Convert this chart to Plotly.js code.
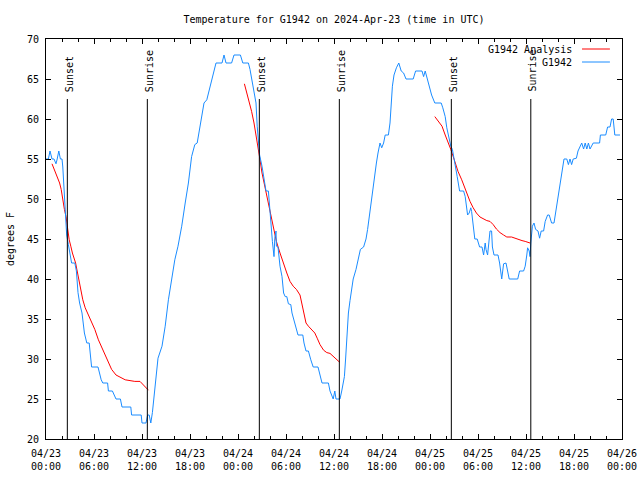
<!DOCTYPE html>
<html>
<head>
<meta charset="utf-8">
<script src="https://cdn.plot.ly/plotly-3.0.1.min.js"></script>
<style>html,body{margin:0;padding:0;background:#fff;}#chart{width:640px;height:480px;}</style>
</head>
<body>
<div id="chart"></div>
<script>
// ---- data (hours after 2024-04-23 00:00 UTC, temperature in degrees F) ----
const obsHours = [0.0,0.3,0.5,0.75,1.0,1.25,1.4,1.6,1.8,2.0,2.1,2.3,2.45,2.58,2.8,3.0,3.2,3.6,3.8,4.0,4.2,4.5,4.8,5.1,5.4,5.7,6.5,6.9,7.1,7.7,7.8,8.3,8.75,9.3,9.5,10.6,10.7,11.9,12.0,12.5,12.7,12.9,13.1,13.3,13.5,13.75,14.0,14.5,14.9,15.3,15.7,16.1,16.5,16.96,17.4,17.8,18.2,18.6,18.9,19.2,19.5,19.75,20.1,20.5,20.9,21.25,22.0,22.25,22.5,23.2,23.5,24.3,24.6,25.3,25.5,25.9,26.25,26.4,26.5,26.7,27.0,27.3,27.5,27.8,27.9,28.05,28.2,28.3,28.5,28.6,28.75,28.8,29.0,29.25,29.5,29.7,29.9,30.1,30.3,30.6,30.75,31.1,31.3,31.5,32.1,32.25,32.5,32.8,33.1,33.4,34.0,34.25,34.5,35.3,35.5,35.9,36.1,36.25,36.75,36.96,37.3,37.45,37.6,37.8,38.0,38.2,38.4,38.75,39.0,39.3,39.7,40.0,40.2,40.4,40.7,40.9,41.1,41.3,41.5,41.75,41.96,42.2,42.4,42.8,43.0,43.1,43.3,43.5,43.8,44.1,44.4,44.7,45.0,45.9,46.2,47.0,47.2,47.4,47.6,47.8,48.0,48.2,48.6,49.4,49.6,49.9,50.1,50.3,50.6,50.8,51.1,51.4,51.7,52.2,52.4,52.5,52.7,52.9,53.1,53.2,53.3,53.5,53.6,53.9,54.2,54.5,54.7,54.9,55.0,55.2,55.4,55.5,55.7,55.8,56.0,56.5,56.7,56.9,56.96,57.2,57.5,57.7,57.9,58.96,59.2,59.7,59.9,60.1,60.2,60.4,60.5,60.6,60.8,61.0,61.2,61.5,61.7,61.9,62.2,62.4,62.7,62.9,63.2,63.5,63.7,63.9,64.1,64.3,64.5,64.75,65.1,65.3,65.5,65.7,65.9,66.3,66.5,66.96,67.2,67.4,67.6,67.8,68.0,68.4,69.2,69.3,69.96,70.2,70.5,70.7,70.9,71.1,71.75];
const obsTempF = [55,55,56,55,55,54.4,55,56,55,55,54,51,48,45.5,44.3,43,42,42,41,38.3,37,35.75,33.25,32,32,29,29,27.4,27,27,26,26,25,25,24,24,23,23,22,22,23,23,22,23.3,25.5,28.25,30.1,31.6,34.1,37.4,39.9,42.4,44.1,46.6,49.5,52,55.3,56.8,57,58.7,60.5,62,62.4,64.1,65.75,67,67,68,67,67,68,68,67,67,66.2,63.7,62,59.1,57.4,55.5,54.1,52.4,51,51,49.5,48.25,46.2,44.7,42.8,45.1,46,44.1,44,41.6,40.3,38.25,37.8,37.8,36.9,36.8,35.75,34.5,33.7,33,33,32,31,31,29.9,29,29,28,27,27,26,25,26,25,25,26,27.8,30,32.4,35.75,37.3,38.7,40,41.2,42.4,43.7,44,45,46.2,47.8,49.9,51.6,53.25,54.5,55.75,57,56.4,57,58,58,59.5,61.6,64.1,65.5,66.4,67,66,65.75,65,65,66,66,65.3,66,65.3,64.5,63.7,63,62,62,61.4,60.3,58.9,57.9,56.6,56.2,54.7,52.8,51,51,50.3,49.3,48,48.25,48.9,48.45,47.6,46.4,45,45,44,44,43,44.5,43.7,43,45.1,46,46,44,43,43,42,40.75,40,41.9,42,41,40,40,41,41,41.6,43,43.9,43.5,42.8,44.5,46.6,47,46.2,46,45.1,46,46,47.2,48,48,47,47,48.25,49.3,50.5,51.8,53,55,55,54.3,55,54.3,55,55.1,56,57,56.25,57,56.25,57,56.25,57,57,58,58,59,59,60,60,58,58];

const anaHours = [0.75,1.25,1.7,1.9,2.1,2.3,2.5,2.7,2.9,3.1,3.3,3.7,3.95,4.25,4.6,4.9,5.3,5.7,6.1,6.55,7.0,7.4,7.8,8.2,8.75,9.25,9.9,10.5,11.1,11.75,12.2,12.8,
  18.0,
  24.8,25.1,25.4,25.7,26.0,26.3,26.5,26.75,27.0,27.4,27.7,28.0,28.4,28.8,29.25,29.7,30.1,30.5,30.9,31.3,31.75,31.96,32.2,32.5,32.8,33.2,33.6,33.9,34.25,34.7,35.1,35.5,35.9,36.3,36.7,
  42.0,
  48.6,49.05,49.5,49.9,50.3,50.6,51.1,51.5,51.96,52.4,52.8,53.0,53.4,53.8,54.25,54.7,55.1,55.5,55.9,56.3,56.75,57.2,57.6,58.2,58.6,59.0,59.5,59.9,60.3,60.5];
const anaTempF = [54.4,53.25,52,51.2,49.7,48.7,47.8,46.2,44.9,44.1,43.25,42,40.75,39.1,37.4,36.4,35.5,34.7,33.7,32.4,31.4,30.3,29.5,28.7,28,27.75,27.4,27.3,27.2,27.2,26.7,26.1,
  null,
  64.4,63.25,62.2,60.95,59.5,57.8,56.6,54.9,53.25,51.4,49.7,48.25,46.4,44.7,43.25,41.8,40.75,39.7,39.1,38.7,38,37,35.75,34.5,34.1,33.7,33.25,32.6,31.8,31.1,30.8,30.7,30.3,30,29.6,
  null,
  60.3,59.7,59.1,58,57,56.2,54.7,53.45,52.4,51.2,50.1,49.7,48.9,48.25,47.75,47.5,47.3,47.2,46.8,46.25,45.8,45.5,45.25,45.25,45.1,44.9,44.8,44.7,44.6,44.5];

const sunsetTimes = ['2024-04-23 02:40', '2024-04-24 02:40', '2024-04-25 02:40'];
const sunriseTimes = ['2024-04-23 12:40', '2024-04-24 12:40', '2024-04-25 12:36'];
const seriesNames = ['G1942 Analysis', 'G1942'];
const seriesColors = ['#ff0000', '#1a8cff'];

// ---- helpers ----
function pad(n){ return (n < 10 ? '0' : '') + n; }
function hoursToDate(h){
  const base = Date.UTC(2024, 3, 23);
  const d = new Date(base + Math.round(h * 60) * 60000);
  return d.getUTCFullYear() + '-' + pad(d.getUTCMonth()+1) + '-' + pad(d.getUTCDate()) + ' ' +
         pad(d.getUTCHours()) + ':' + pad(d.getUTCMinutes());
}

const FONT = 'DejaVu Sans Mono, monospace';

const traces = [
  {
    x: anaHours.map(hoursToDate), y: anaTempF, type: 'scatter', mode: 'lines',
    name: seriesNames[0], connectgaps: false, showlegend: false,
    line: {color: seriesColors[0], width: 1}
  },
  {
    x: obsHours.map(hoursToDate), y: obsTempF, type: 'scatter', mode: 'lines',
    name: seriesNames[1], showlegend: false,
    line: {color: seriesColors[1], width: 1}
  }
];

const shapes = [];
const annotations = [];
const LINE_TOP = 0.85, LABEL_BOTTOM = 0.863;
sunsetTimes.forEach(t => {
  shapes.push({type: 'line', xref: 'x', yref: 'paper', x0: t, x1: t, y0: 0, y1: LINE_TOP, line: {color: '#000', width: 1}});
  annotations.push({x: t, y: LABEL_BOTTOM, xref: 'x', yref: 'paper', text: 'Sunset', textangle: -90, showarrow: false,
    xanchor: 'center', yanchor: 'bottom', xshift: 2, font: {family: FONT, size: 10, color: '#000'}});
});
sunriseTimes.forEach(t => {
  shapes.push({type: 'line', xref: 'x', yref: 'paper', x0: t, x1: t, y0: 0, y1: LINE_TOP, line: {color: '#000', width: 1}});
  annotations.push({x: t, y: LABEL_BOTTOM, xref: 'x', yref: 'paper', text: 'Sunrise', textangle: -90, showarrow: false,
    xanchor: 'center', yanchor: 'bottom', xshift: 2, font: {family: FONT, size: 10, color: '#000'}});
});

// custom legend (text left of sample line, gnuplot style)
const legY = [0.975, 0.9425];
seriesNames.forEach((n, i) => {
  annotations.push({x: 0.9167, y: legY[i], xref: 'paper', yref: 'paper', text: n, showarrow: false,
    xanchor: 'right', yanchor: 'middle', font: {family: FONT, size: 10, color: '#000'}});
  shapes.push({type: 'line', xref: 'paper', yref: 'paper', x0: 0.9306, x1: 0.979, y0: legY[i], y1: legY[i],
    line: {color: seriesColors[i], width: 1}});
});

const layout = {
  width: 640, height: 480,
  margin: {l: 46, r: 18, t: 39, b: 41, pad: 0},
  paper_bgcolor: '#fff', plot_bgcolor: '#fff',
  font: {family: FONT, size: 10, color: '#000'},
  title: {text: 'Temperature for G1942 on 2024-Apr-23 (time in UTC)', x: 0.5, xref: 'paper', xanchor: 'center',
    y: 1 - 19/480, yanchor: 'middle', font: {family: FONT, size: 10, color: '#000'}},
  showlegend: false,
  xaxis: {
    type: 'date', range: ['2024-04-23 00:00', '2024-04-26 00:00'],
    tick0: '2024-04-23 00:00', dtick: 6*3600000, tickformat: '%m/%d<br>%H:%M',
    ticks: 'inside', ticklen: 5, tickwidth: 1, tickcolor: '#000',
    minor: {dtick: 2*3600000, ticks: 'inside', ticklen: 3, tickcolor: '#000', showgrid: false},
    showline: true, linecolor: '#000', linewidth: 1, mirror: 'allticks',
    showgrid: false, zeroline: false, fixedrange: true,
    tickfont: {family: FONT, size: 10, color: '#000'}, ticklabelstandoff: 5
  },
  yaxis: {
    range: [20, 70], dtick: 5, tick0: 20,
    ticks: 'inside', ticklen: 5, tickwidth: 1, tickcolor: '#000',
    showline: true, linecolor: '#000', linewidth: 1, mirror: 'allticks',
    showgrid: false, zeroline: false, fixedrange: true,
    tickfont: {family: FONT, size: 10, color: '#000'}, ticklabelstandoff: 4,
    title: {text: 'degrees F', standoff: 10, font: {family: FONT, size: 10, color: '#000'}}
  },
  shapes: shapes,
  annotations: annotations
};

Plotly.newPlot('chart', traces, layout, {staticPlot: true, displayModeBar: false});
</script>
</body>
</html>
